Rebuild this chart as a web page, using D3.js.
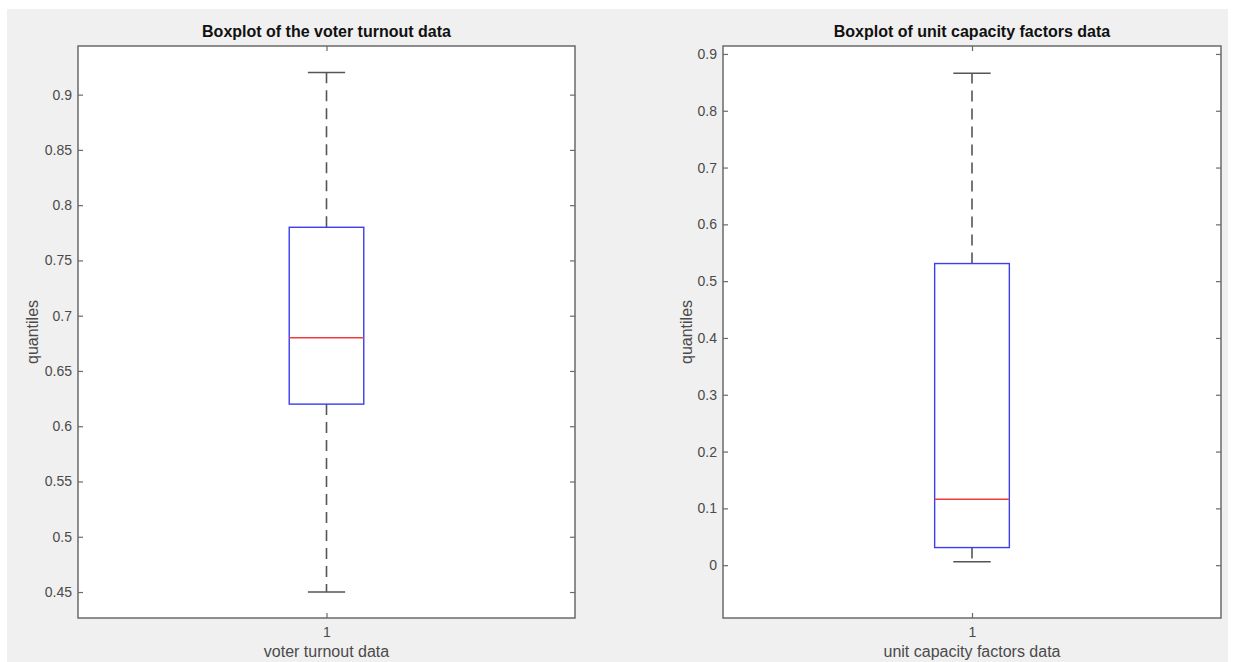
<!DOCTYPE html>
<html>
<head>
<meta charset="utf-8">
<script src="https://cdn.jsdelivr.net/npm/d3@7"></script>
<style>
  html, body { margin: 0; padding: 0; background: #ffffff; }
  svg { display: block; }
  text { font-family: "Liberation Sans", Arial, Helvetica, sans-serif; }
</style>
</head>
<body>
<svg id="chart" width="1250" height="662"></svg>
<script>
// Panel text
const panelTitles = ["Boxplot of the voter turnout data", "Boxplot of unit capacity factors data"];
const xLabels = ["voter turnout data", "unit capacity factors data"];
const yLabel = "quantiles";
const groupNames = [1];

// Box statistics: lower whisker, Q1, median, Q3, upper whisker
const turnoutStats = [0.45, 0.62, 0.68, 0.78, 0.92];
const capacityStats = [0.006, 0.031, 0.116, 0.531, 0.866];

// Y-axis limits and ticks
const turnoutLimits = [0.4265, 0.9440];
const capacityLimits = [-0.093, 0.914];
const turnoutTicks = [0.45, 0.5, 0.55, 0.6, 0.65, 0.7, 0.75, 0.8, 0.85, 0.9];
const turnoutTickLabels = ["0.45", "0.5", "0.55", "0.6", "0.65", "0.7", "0.75", "0.8", "0.85", "0.9"];
const capacityTicks = [0, 0.1, 0.2, 0.3, 0.4, 0.5, 0.6, 0.7, 0.8, 0.9];
const capacityTickLabels = ["0", "0.1", "0.2", "0.3", "0.4", "0.5", "0.6", "0.7", "0.8", "0.9"];

const svg = d3.select("#chart");

// Figure background
svg.append("rect").attr("x", 7).attr("y", 9).attr("width", 1221).attr("height", 653).attr("fill", "#f0f0f0");

const panels = [
  { title: panelTitles[0], xLabel: xLabels[0], stats: turnoutStats, limits: turnoutLimits,
    ticks: turnoutTicks, tickLabels: turnoutTickLabels, left: 78, right: 575, ylabX: 38 },
  { title: panelTitles[1], xLabel: xLabels[1], stats: capacityStats, limits: capacityLimits,
    ticks: capacityTicks, tickLabels: capacityTickLabels, left: 723, right: 1221, ylabX: 692 }
];
const plotTop = 46, plotBottom = 618;
const frameColor = "#6a6a6a";
const labelColor = "#4a4a4a";

panels.forEach(p => {
  const g = svg.append("g");
  const x = d3.scaleLinear().domain([0.5, 1.5]).range([p.left, p.right]);
  const y = d3.scaleLinear().domain(p.limits).range([plotBottom, plotTop]);

  // plot area
  g.append("rect").attr("x", p.left).attr("y", plotTop).attr("width", p.right - p.left)
    .attr("height", plotBottom - plotTop).attr("fill", "#ffffff");

  const fmt = (d) => p.tickLabels[p.ticks.indexOf(d)];
  const styleAxis = (sel) => {
    sel.select(".domain").remove();
    sel.selectAll(".tick line").attr("stroke", frameColor).attr("stroke-width", 1.2);
    sel.selectAll(".tick text").attr("fill", labelColor).attr("font-size", 14);
  };

  g.append("g").attr("transform", `translate(${p.left},0)`)
    .call(d3.axisLeft(y).tickValues(p.ticks).tickFormat(fmt).tickSizeInner(-5).tickSizeOuter(0).tickPadding(6))
    .call(styleAxis);
  g.append("g").attr("transform", `translate(${p.right},0)`)
    .call(d3.axisRight(y).tickValues(p.ticks).tickFormat("").tickSizeInner(-5).tickSizeOuter(0))
    .call(styleAxis);
  g.append("g").attr("transform", `translate(0,${plotBottom})`)
    .call(d3.axisBottom(x).tickValues(groupNames).tickFormat(d3.format("d")).tickSizeInner(-5).tickSizeOuter(0).tickPadding(9))
    .call(styleAxis);
  g.append("g").attr("transform", `translate(0,${plotTop})`)
    .call(d3.axisTop(x).tickValues(groupNames).tickFormat("").tickSizeInner(-5).tickSizeOuter(0))
    .call(styleAxis);

  // axes frame
  g.append("rect").attr("x", p.left).attr("y", plotTop).attr("width", p.right - p.left)
    .attr("height", plotBottom - plotTop).attr("fill", "none").attr("stroke", frameColor).attr("stroke-width", 1.5);

  // box plot
  const [lo, q1, med, q3, hi] = p.stats;
  const cx = x(groupNames[0]);
  const boxHalf = x(1.075) - cx;
  const capHalf = x(1.0375) - cx;
  const whiskerColor = "#555555";

  g.append("line").attr("x1", cx).attr("x2", cx).attr("y1", y(q3)).attr("y2", y(hi))
    .attr("stroke", whiskerColor).attr("stroke-width", 1.6).attr("stroke-dasharray", "11,7");
  g.append("line").attr("x1", cx).attr("x2", cx).attr("y1", y(q1)).attr("y2", y(lo))
    .attr("stroke", whiskerColor).attr("stroke-width", 1.6).attr("stroke-dasharray", "11,7");
  [lo, hi].forEach(v => {
    g.append("line").attr("x1", cx - capHalf).attr("x2", cx + capHalf).attr("y1", y(v)).attr("y2", y(v))
      .attr("stroke", whiskerColor).attr("stroke-width", 1.6);
  });
  g.append("rect").attr("x", cx - boxHalf).attr("y", y(q3)).attr("width", 2 * boxHalf)
    .attr("height", y(q1) - y(q3)).attr("fill", "none").attr("stroke", "#3c3cf0").attr("stroke-width", 1.4);
  g.append("line").attr("x1", cx - boxHalf).attr("x2", cx + boxHalf).attr("y1", y(med)).attr("y2", y(med))
    .attr("stroke", "#f03c3c").attr("stroke-width", 1.4);

  // labels
  g.append("text").attr("x", (p.left + p.right) / 2).attr("y", 37).attr("text-anchor", "middle")
    .attr("font-size", 16).attr("font-weight", "bold").attr("fill", "#111").text(p.title);
  g.append("text").attr("x", (p.left + p.right) / 2).attr("y", 657).attr("text-anchor", "middle")
    .attr("font-size", 16).attr("fill", labelColor).text(p.xLabel);
  g.append("text").attr("transform", `translate(${p.ylabX},${(plotTop + plotBottom) / 2}) rotate(-90)`)
    .attr("text-anchor", "middle").attr("font-size", 16).attr("fill", labelColor).text(yLabel);
});
</script>
</body>
</html>
